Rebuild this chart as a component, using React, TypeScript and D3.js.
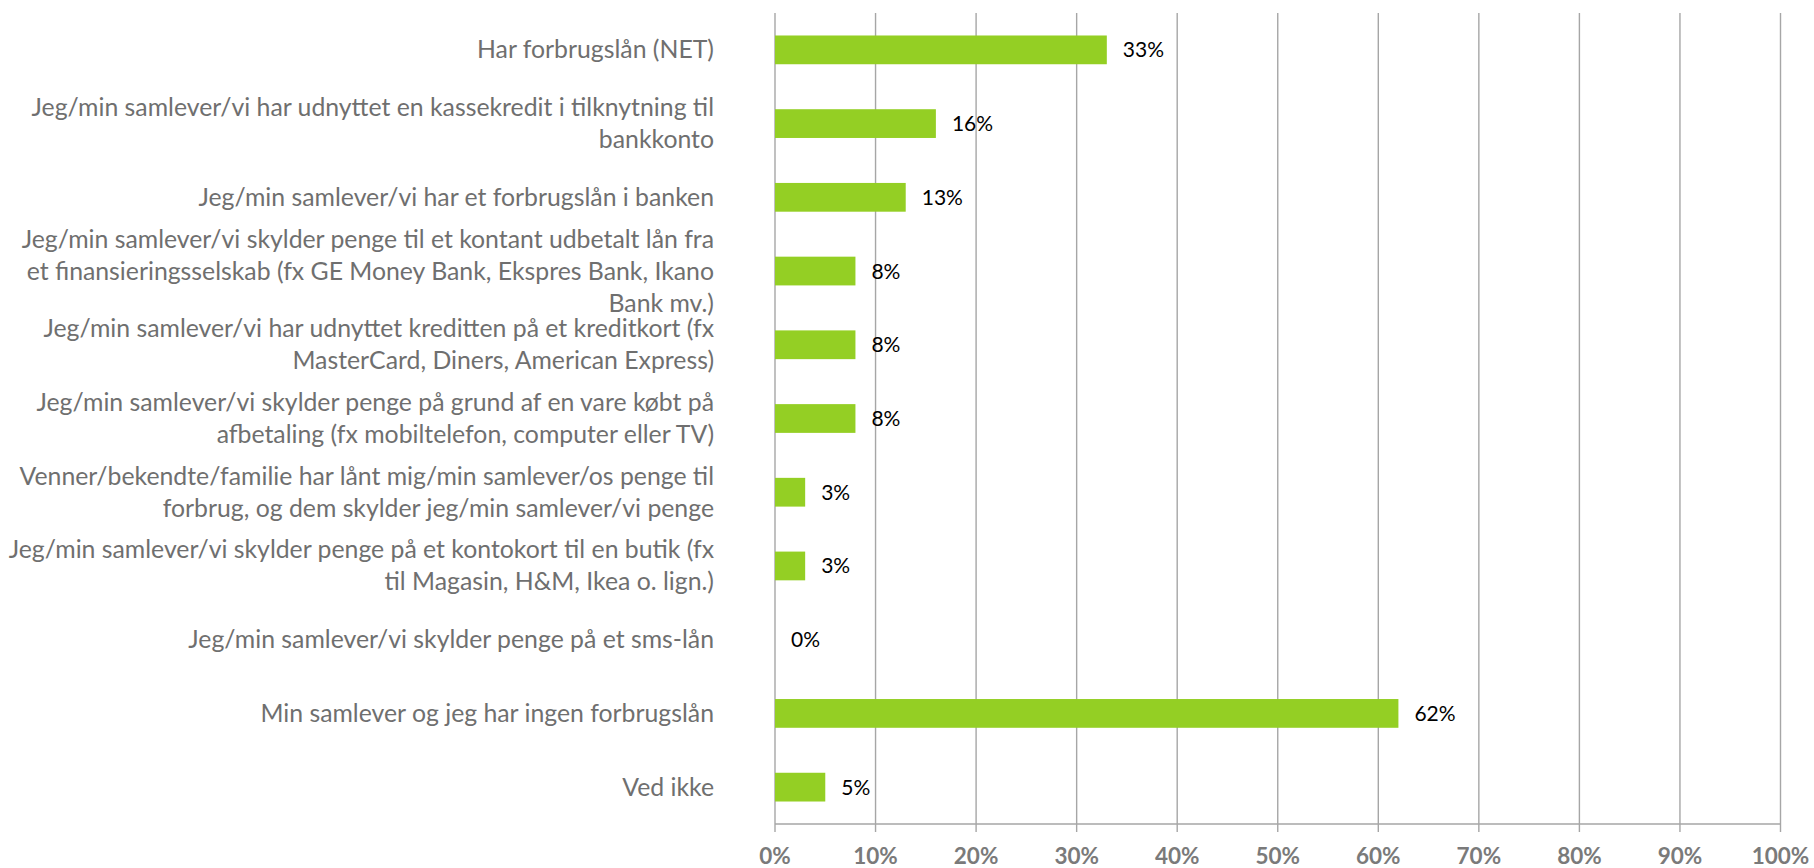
import React, { useEffect, useRef } from "react";
import * as d3 from "d3";

// category labels, one array of lines per bar
const categories: string[][] = [
  ["Har forbrugslån (NET)"],
  ["Jeg/min samlever/vi har udnyttet en kassekredit i tilknytning til", "bankkonto"],
  ["Jeg/min samlever/vi har et forbrugslån i banken"],
  [
    "Jeg/min samlever/vi skylder penge til et kontant udbetalt lån fra",
    "et finansieringsselskab (fx GE Money Bank, Ekspres Bank, Ikano",
    "Bank mv.)",
  ],
  ["Jeg/min samlever/vi har udnyttet kreditten på et kreditkort (fx", "MasterCard, Diners, American Express)"],
  ["Jeg/min samlever/vi skylder penge på grund af en vare købt på", "afbetaling (fx mobiltelefon, computer eller TV)"],
  ["Venner/bekendte/familie har lånt mig/min samlever/os penge til", "forbrug, og dem skylder jeg/min samlever/vi penge"],
  ["Jeg/min samlever/vi skylder penge på et kontokort til en butik (fx", "til Magasin, H&M, Ikea o. lign.)"],
  ["Jeg/min samlever/vi skylder penge på et sms-lån"],
  ["Min samlever og jeg har ingen forbrugslån"],
  ["Ved ikke"],
];

const values = [33, 16, 13, 8, 8, 8, 3, 3, 0, 62, 5];

const tickValues = [0, 10, 20, 30, 40, 50, 60, 70, 80, 90, 100];

const App = () => {
  const ref = useRef<SVGSVGElement>(null);

  useEffect(() => {
    const width = 1814,
      height = 868;
    const plot = { left: 775, right: 1780.5, top: 13, bottom: 824 };
    const gridColor = "#A6A6A6";
    const font = "Lato, 'Open Sans', sans-serif";

    const svg = d3.select(ref.current);
    svg.selectAll("*").remove();
    svg.attr("width", width).attr("height", height);

    const x = d3.scaleLinear().domain([0, 100]).range([plot.left, plot.right]);
    const ids = values.map((_, i) => i);
    const y = d3
      .scaleBand<number>()
      .domain(ids)
      .range([plot.top, plot.bottom])
      .paddingInner(0.61)
      .paddingOuter(0.305);

    // vertical gridlines
    svg
      .append("g")
      .selectAll("line")
      .data(tickValues)
      .enter()
      .append("line")
      .attr("x1", (d) => x(d))
      .attr("x2", (d) => x(d))
      .attr("y1", plot.top)
      .attr("y2", plot.bottom + 8)
      .attr("stroke", gridColor)
      .attr("stroke-width", 1.4);

    // bottom axis line
    svg
      .append("line")
      .attr("x1", x(0))
      .attr("x2", x(100))
      .attr("y1", plot.bottom)
      .attr("y2", plot.bottom)
      .attr("stroke", gridColor)
      .attr("stroke-width", 1.4);

    // tick labels
    svg
      .append("g")
      .selectAll("text")
      .data(tickValues)
      .enter()
      .append("text")
      .attr("x", (d) => x(d))
      .attr("y", 864)
      .attr("text-anchor", "middle")
      .attr("font-family", font)
      .attr("font-weight", "bold")
      .attr("font-size", 22.5)
      .attr("fill", "#7A7A7A")
      .text((d) => `${d}%`);

    // bars
    svg
      .append("g")
      .selectAll("rect")
      .data(values)
      .enter()
      .append("rect")
      .attr("x", x(0))
      .attr("y", (_, i) => y(i)!)
      .attr("width", (d) => x(d) - x(0))
      .attr("height", y.bandwidth())
      .attr("fill", "#94CF24");

    // value labels
    svg
      .append("g")
      .selectAll("text")
      .data(values)
      .enter()
      .append("text")
      .attr("x", (d) => x(d) + 16)
      .attr("y", (_, i) => y(i)! + y.bandwidth() / 2 + 7.5)
      .attr("font-family", font)
      .attr("font-size", 21)
      .attr("fill", "#000000")
      .text((d) => `${d}%`);

    // category labels
    const lineHeight = 32;
    const labels = svg
      .append("g")
      .selectAll("text")
      .data(categories)
      .enter()
      .append("text")
      .attr("text-anchor", "end")
      .attr("font-family", font)
      .attr("font-size", 24.8)
      .attr("fill", "#6F6F6F");

    labels.each(function (lines, i) {
      const cy = y(i)! + y.bandwidth() / 2;
      const first = cy + 8.5 - ((lines.length - 1) * lineHeight) / 2;
      d3.select(this)
        .selectAll("tspan")
        .data(lines)
        .enter()
        .append("tspan")
        .attr("x", 714)
        .attr("y", (_, j) => first + j * lineHeight)
        .text((d) => d);
    });
  }, []);

  return <svg ref={ref} style={{ position: "absolute", left: 0, top: 0 }}></svg>;
};

export default App;
